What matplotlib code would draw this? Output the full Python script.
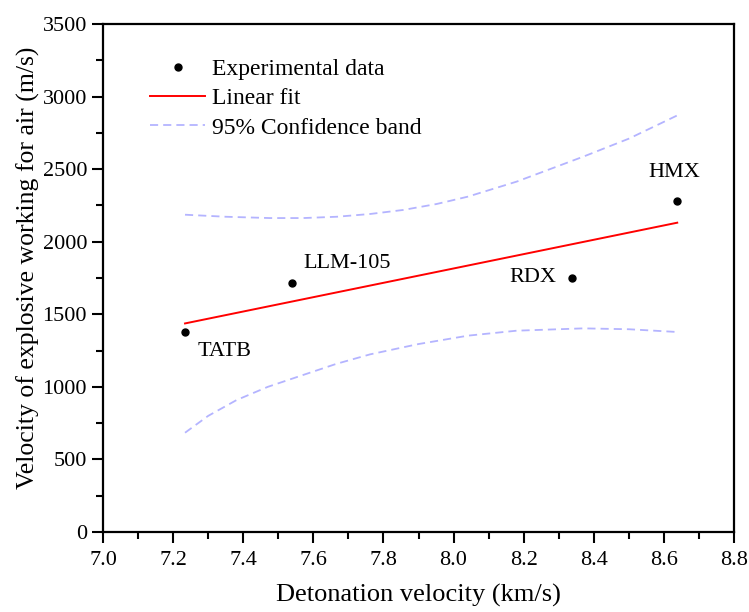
import matplotlib.pyplot as plt
from matplotlib.ticker import MultipleLocator

# explosives: detonation velocity (km/s) vs velocity of working for air (m/s)
names = ['TATB', 'LLM-105', 'RDX', 'HMX']
det_vel = [7.234, 7.538, 8.339, 8.638]
air_vel = [1380, 1718, 1752, 2283]

# linear fit end points
fit_x = [7.234, 8.638]
fit_y = [1437, 2131]

# 95% confidence band
upper_x = [7.234, 7.35, 7.476, 7.571, 7.667, 7.762, 7.857, 7.952, 8.04, 8.18, 8.37, 8.50, 8.638]
upper_y = [2186, 2172, 2163, 2163, 2172, 2191, 2219, 2260, 2310, 2414, 2586, 2710, 2870]
lower_x = [7.234, 7.30, 7.381, 7.47, 7.571, 7.665, 7.762, 7.90, 8.042, 8.18, 8.37, 8.50, 8.638]
lower_y = [684, 800, 909, 1000, 1082, 1158, 1224, 1295, 1353, 1387, 1403, 1397, 1378]

# label positions (data units) and alignment
label_pos = {
    'TATB': (7.269, 1242, 'left'),
    'LLM-105': (7.571, 1847, 'left'),
    'RDX': (8.292, 1755, 'right'),
    'HMX': (8.630, 2476, 'center'),
}

plt.rcParams['font.family'] = ['Liberation Serif', 'DejaVu Serif']

fig = plt.figure(figsize=(7.49, 6.12), dpi=100)
ax = fig.add_axes([0.1375, 0.1307, 0.8425, 0.8301])

ax.plot(det_vel, air_vel, 'o', color='black', markersize=5, label='Experimental data', zorder=5)
ax.plot(fit_x, fit_y, color='#ff0000', lw=1.4, label='Linear fit')
ax.plot(upper_x, upper_y, color='#b4b4ff', lw=1.3, ls=(0, (4.5, 2.8)), label='95% Confidence band')
ax.plot(lower_x, lower_y, color='#b4b4ff', lw=1.3, ls=(0, (4.5, 2.8)))

for n in names:
    x, y, ha = label_pos[n]
    ax.text(x, y, n, fontsize=16, ha=ha, va='center')

ax.set_xlim(7.0, 8.8)
ax.set_ylim(0, 3500)
ax.xaxis.set_major_locator(MultipleLocator(0.2))
ax.xaxis.set_minor_locator(MultipleLocator(0.1))
ax.yaxis.set_major_locator(MultipleLocator(500))
ax.yaxis.set_minor_locator(MultipleLocator(250))
ax.xaxis.set_major_formatter(plt.FormatStrFormatter('%.1f'))

ax.tick_params(which='major', direction='out', length=8, width=1.5, labelsize=16)
ax.tick_params(axis='x', which='major', pad=6)
ax.tick_params(which='minor', direction='out', length=5, width=1.5)
for s in ax.spines.values():
    s.set_linewidth(1.6)

ax.set_xlabel('Detonation velocity (km/s)', fontsize=19, labelpad=10)
ax.set_ylabel('Velocity of explosive working for air (m/s)', fontsize=18.5)
ax.yaxis.set_label_coords(-0.1, 0.52)

ax.legend(loc='upper left', bbox_to_anchor=(0.06, 0.95), frameon=False, fontsize=17,
          handlelength=2.33, handletextpad=0.3, labelspacing=0.32, borderaxespad=0)

fig.savefig('out.png', dpi=100)
